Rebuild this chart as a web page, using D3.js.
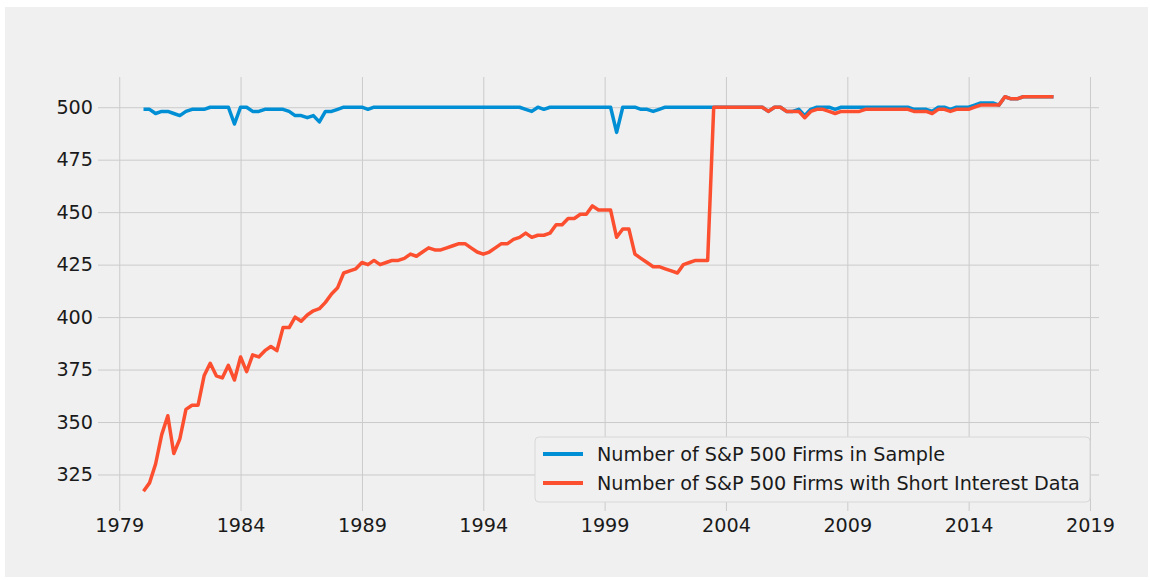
<!DOCTYPE html>
<html>
<head>
<meta charset="utf-8">
<script src="https://cdn.jsdelivr.net/npm/d3@7"></script>
<style>
body{margin:0;background:#fff;}
text{font-family:"DejaVu Sans",sans-serif;}
</style>
</head>
<body>
<div id="chart"></div>
<script>
// quarterly counts, first quarter = 1980 Q1
var startYear=1980;
var inSample=[
499,499,497,498,498,497,496,498,499,499,
499,500,500,500,500,492,500,500,498,498,
499,499,499,499,498,496,496,495,496,493,
498,498,499,500,500,500,500,499,500,500,
500,500,500,500,500,500,500,500,500,500,
500,500,500,500,500,500,500,500,500,500,
500,500,500,499,498,500,499,500,500,500,
500,500,500,500,500,500,500,500,488,500,
500,500,499,499,498,499,500,500,500,500,
500,500,500,500,500,500,500,500,500,500,
500,500,500,498,500,500,498,498,499,496,
499,500,500,500,499,500,500,500,500,500,
500,500,500,500,500,500,500,499,499,499,
498,500,500,499,500,500,500,501,502,502,
502,501,505,504,504,505,505,505,505,505,
505];
var withShort=[
317,321,330,344,353,335,342,356,358,358,
372,378,372,371,377,370,381,374,382,381,
384,386,384,395,395,400,398,401,403,404,
407,411,414,421,422,423,426,425,427,425,
426,427,427,428,430,429,431,433,432,432,
433,434,435,435,433,431,430,431,433,435,
435,437,438,440,438,439,439,440,444,444,
447,447,449,449,453,451,451,451,438,442,
442,430,428,426,424,424,423,422,421,425,
426,427,427,427,500,500,500,500,500,500,
500,500,500,498,500,500,498,498,498,495,
498,499,499,498,497,498,498,498,498,499,
499,499,499,499,499,499,499,498,498,498,
497,499,499,498,499,499,499,500,501,501,
501,501,505,504,504,505,505,505,505,505,
505];
var seriesNames=["Number of S&P 500 Firms in Sample","Number of S&P 500 Firms with Short Interest Data"];
var seriesColors=["#008fd5","#fc4f30"];
var xTickYears=[1979,1984,1989,1994,1999,2004,2009,2014,2019];
var yTickVals=[325,350,375,400,425,450,475,500];

var wide=1150;
var high=580;
var plotL=98,plotR=1099,plotT=77,plotB=511;
var fontSize=19.2;

var dates=inSample.map(function(v,i){
  return new Date(startYear,i*3,1);
});

var svg=d3
  .select("#chart")
  .append("svg")
  .attr("width",wide)
  .attr("height",high);

svg.append("rect")
  .attr("x",5)
  .attr("y",7)
  .attr("width",1143)
  .attr("height",570)
  .attr("fill","#f0f0f0");

// matplotlib style 5% margins
var t0=dates[0].getTime(),t1=dates[dates.length-1].getTime();
var tpad=(t1-t0)*0.05;
var xscale=d3
  .scaleTime()
  .domain([new Date(t0-tpad),new Date(t1+tpad)])
  .range([plotL,plotR]);
var allVals=inSample.concat(withShort);
var ymin=d3.min(allVals),ymax=d3.max(allVals);
var ypad=(ymax-ymin)*0.05;
var yscale=d3
  .scaleLinear()
  .domain([ymin-ypad,ymax+ypad])
  .range([plotB,plotT]);

var xaxis=d3.axisBottom(xscale)
  .tickValues(xTickYears.map(function(y){return new Date(y,0,1);}))
  .tickFormat(d3.timeFormat("%Y"))
  .tickSize(-(plotB-plotT))
  .tickPadding(7);
var yaxis=d3.axisLeft(yscale)
  .tickValues(yTickVals)
  .tickSize(-(plotR-plotL))
  .tickPadding(5);

svg.append("g")
  .attr("class","xAxis")
  .attr("transform","translate(0,"+plotB+")")
  .call(xaxis);
svg.append("g")
  .attr("class","yAxis")
  .attr("transform","translate("+plotL+",0)")
  .call(yaxis);
svg.selectAll(".domain").remove();
svg.selectAll(".tick line")
  .attr("stroke","#cbcbcb")
  .attr("stroke-width",1);
svg.selectAll(".tick text")
  .attr("fill","#1a1a1a")
  .style("font-size",fontSize+"px");

var line=d3.line()
  .x(function(d,i){return xscale(dates[i]);})
  .y(function(d){return yscale(d);});

[inSample,withShort].forEach(function(s,i){
  svg.append("path")
    .datum(s)
    .attr("fill","none")
    .attr("stroke",seriesColors[i])
    .attr("stroke-width",3.5)
    .attr("stroke-linejoin","round")
    .attr("d",line);
});

// legend
var lg=svg.append("g").attr("class","legend");
lg.append("rect")
  .attr("x",535)
  .attr("y",437)
  .attr("width",555)
  .attr("height",65)
  .attr("rx",4)
  .attr("fill","#f0f0f0")
  .attr("stroke","#d8d8d8")
  .attr("stroke-width",1);
seriesNames.forEach(function(name,i){
  var cy=454+i*29;
  lg.append("line")
    .attr("x1",543)
    .attr("x2",583)
    .attr("y1",cy)
    .attr("y2",cy)
    .attr("stroke",seriesColors[i])
    .attr("stroke-width",4);
  lg.append("text")
    .attr("x",597)
    .attr("y",cy+7)
    .attr("fill","#1a1a1a")
    .style("font-size",fontSize+"px")
    .text(name);
});
</script>
</body>
</html>
